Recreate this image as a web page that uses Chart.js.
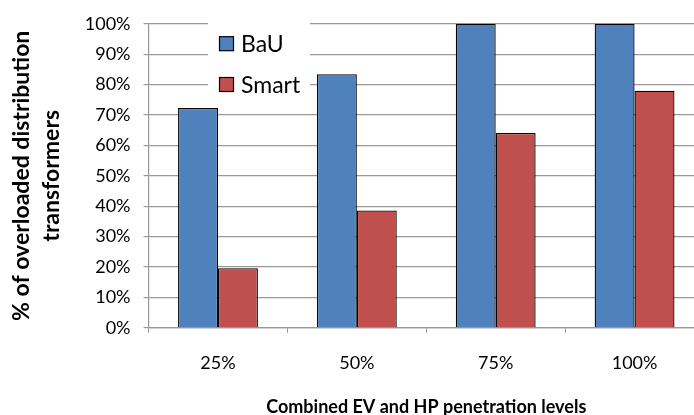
<!DOCTYPE html>
<html>
<head>
<meta charset="utf-8">
<script src="https://cdn.jsdelivr.net/npm/chart.js@4.4.1/dist/chart.umd.min.js"></script>
<style>
  html, body { margin: 0; padding: 0; background: #fff; overflow: hidden; }
  #wrap { position: absolute; left: 0; top: 0; width: 712px; height: 418px; }
</style>
</head>
<body>
<div id="wrap"><canvas id="chart"></canvas></div>
<script>
const categories = ['25%', '50%', '75%', '100%'];
const bauValues = [72.3, 83.4, 100, 100];
const smartValues = [19.6, 38.6, 64.1, 78.0];
const seriesNames = ['BaU', 'Smart'];

const FONT = 'Lato, "Open Sans", sans-serif';

// legend drawn inside the plot, with a white box over the gridlines
const insideLegend = {
    id: 'insideLegend',
    afterDatasetsDraw(chart) {
        const ctx = chart.ctx;
        ctx.save();
        ctx.fillStyle = '#fff';
        ctx.fillRect(208, 18, 102, 84);
        chart.data.datasets.forEach((ds, i) => {
            const cy = 43.7 + i * 40.8;
            ctx.fillStyle = ds.backgroundColor;
            ctx.fillRect(219.5, cy - 7, 14, 14);
            ctx.strokeStyle = '#000';
            ctx.lineWidth = 1.2;
            ctx.strokeRect(219.5, cy - 7, 14, 14);
            ctx.fillStyle = '#000';
            ctx.font = '23px ' + FONT;
            ctx.textBaseline = 'middle';
            ctx.fillText(ds.label, 241, cy + 1);
        });
        ctx.restore();
    }
};

const chart = new Chart(document.getElementById('chart').getContext('2d'), {
    type: 'bar',
    data: {
        labels: categories,
        datasets: [
            {
                label: seriesNames[0],
                data: bauValues,
                backgroundColor: '#4F81BD',
                borderColor: '#000',
                borderWidth: 1.3,
            },
            {
                label: seriesNames[1],
                data: smartValues,
                backgroundColor: '#C0504D',
                borderColor: '#000',
                borderWidth: 1.3,
            }
        ]
    },
    options: {
        responsive: true,
        maintainAspectRatio: false,
        animation: false,
        layout: {
            padding: { left: 7, right: 8, top: 18, bottom: 0 }
        },
        datasets: {
            bar: {
                categoryPercentage: 0.575,
                barPercentage: 1.0,
            }
        },
        scales: {
            x: {
                grid: {
                    drawOnChartArea: false,
                    drawTicks: true,
                    tickLength: 5,
                    color: '#999',
                },
                border: { color: '#999', width: 1.2 },
                ticks: {
                    color: '#000',
                    padding: 20,
                    font: { family: FONT, size: 18 }
                },
                title: {
                    display: true,
                    text: 'Combined EV and HP penetration levels',
                    color: '#000',
                    font: { family: FONT, size: 18, weight: 'bold' },
                    padding: { top: 2, bottom: 0 }
                }
            },
            y: {
                min: 0,
                max: 100,
                grid: {
                    color: '#999',
                    lineWidth: 1.2,
                    tickLength: 5,
                },
                border: { color: '#999', width: 1.2 },
                ticks: {
                    stepSize: 10,
                    color: '#000',
                    padding: 13,
                    font: { family: FONT, size: 18 },
                    callback: (v) => v + '%'
                },
                title: {
                    display: true,
                    text: ['% of overloaded distribution', 'transformers'],
                    color: '#000',
                    font: { family: FONT, size: 23, weight: 'bold', lineHeight: 1.3 },
                    padding: { top: 0, bottom: 5 }
                }
            }
        },
        plugins: {
            legend: { display: false },
            tooltip: { enabled: false },
        },
    },
    plugins: [insideLegend]
});
window.chart = chart;
</script>
</body>
</html>
